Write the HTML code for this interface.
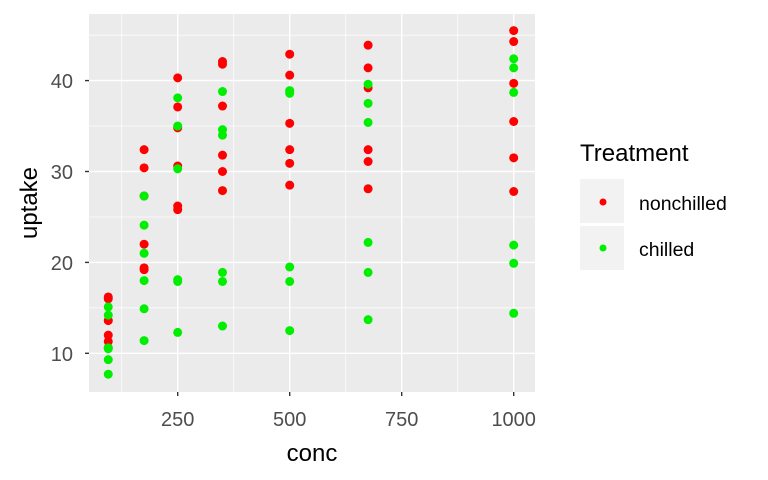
<!DOCTYPE html>
<html><head><meta charset="utf-8"><style>
body{margin:0;background:#fff;}
svg{display:block;font-family:"Liberation Sans",Arial,sans-serif;}
</style></head><body>
<svg id="chart" width="768" height="480">
<rect x="0" y="0" width="768" height="480" fill="#fff"/>
<rect x="89" y="14" width="446" height="378" fill="#ebebeb"/>
<g id="grid"></g>
<g id="axes"></g>
<g id="points"></g>
<text x="312" y="461" font-size="24" text-anchor="middle" fill="#000">conc</text>
<text transform="translate(37,203) rotate(-90)" font-size="24" text-anchor="middle" fill="#000">uptake</text>
<g>
<text x="580" y="161" font-size="24" fill="#000">Treatment</text>
<g>
<rect x="580" y="179" width="44" height="44" fill="#f2f2f2"/>
<circle cx="603" cy="202" r="3.5" fill="#ff0000"/>
<text x="639" y="210" font-size="19.5" fill="#000">nonchilled</text></g>
<g>
<rect x="580" y="226" width="44" height="44" fill="#f2f2f2"/>
<circle cx="603" cy="248" r="3.5" fill="#00ee00"/>
<text x="639" y="256" font-size="19.5" fill="#000">chilled</text></g>
</g>
</svg>
<script>
const concs=[95,175,250,350,500,675,1000];
const nonchilled=[
[16.0,30.4,34.8,37.2,35.3,39.2,39.7],
[13.6,27.3,37.1,41.8,40.6,41.4,44.3],
[16.2,32.4,40.3,42.1,42.9,43.9,45.5],
[11.3,19.4,25.8,27.9,28.5,28.1,27.8],
[12.0,22.0,30.6,31.8,32.4,31.1,31.5],
[10.6,19.2,26.2,30.0,30.9,32.4,35.5]];
const chilled=[
[14.2,24.1,30.3,34.6,38.8,35.4,38.7],
[15.1,21.0,38.1,34.0,38.9,39.6,41.4],
[9.3,27.3,35.0,38.8,38.6,37.5,42.4],
[7.7,11.4,12.3,13.0,12.5,13.7,14.4],
[10.6,18.0,17.9,17.9,17.9,18.9,19.9],
[10.5,14.9,18.1,18.9,19.5,22.2,21.9]];
const xTicks=[250,500,750,1000];
const xMinor=[125,375,625,875];
const yTicks=[10,20,30,40];
const yMinor=[15,25,35,45];
const NS="http://www.w3.org/2000/svg";
const X=v=>177.7+(v-250)*0.448;
const Y=v=>353.3-(v-10)*9.09;
function mk(tag,attrs,parent){const e=document.createElementNS(NS,tag);for(const k in attrs)e.setAttribute(k,attrs[k]);parent.appendChild(e);return e;}
const grid=document.getElementById('grid'),axes=document.getElementById('axes'),pts=document.getElementById('points');
xMinor.forEach(v=>{const l=mk('line',{x1:X(v),x2:X(v),y1:14,y2:392,stroke:'#fff','stroke-width':0.7},grid);

});
yMinor.forEach(v=>{const l=mk('line',{x1:89,x2:535,y1:Y(v),y2:Y(v),stroke:'#fff','stroke-width':0.7},grid);

});
xTicks.forEach(v=>{const l=mk('line',{x1:X(v),x2:X(v),y1:14,y2:392,stroke:'#fff','stroke-width':1.4},grid);


const t=mk('line',{x1:X(v),x2:X(v),y1:392,y2:396,stroke:'#333','stroke-width':1.4},axes);


const tx=mk('text',{x:X(v),y:426,'font-size':20,'text-anchor':'middle',fill:'#4d4d4d'},axes);tx.textContent=v;

});
yTicks.forEach(v=>{const l=mk('line',{x1:89,x2:535,y1:Y(v),y2:Y(v),stroke:'#fff','stroke-width':1.4},grid);


const t=mk('line',{x1:85,x2:89,y1:Y(v),y2:Y(v),stroke:'#333','stroke-width':1.4},axes);


const tx=mk('text',{x:73,y:Y(v)+7.5,'font-size':20,'text-anchor':'end',fill:'#4d4d4d'},axes);tx.textContent=v;

});
function draw(series,color,name){series.forEach(row=>row.forEach((v,i)=>{
const c=mk('circle',{cx:X(concs[i]),cy:Y(v),r:4.5,fill:color},pts);

}));}
draw(nonchilled,'#ff0000','point-nonchilled');
draw(chilled,'#00ee00','point-chilled');
</script>
</body></html>
